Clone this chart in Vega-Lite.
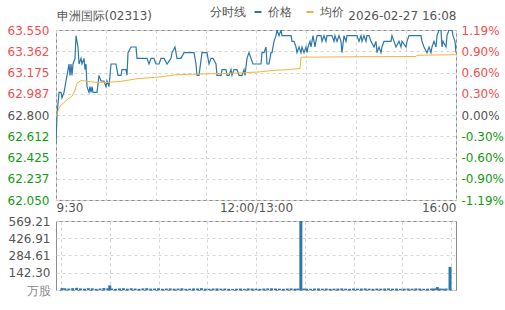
{
  "$schema": "https://vega.github.io/schema/vega-lite/v6.json",
  "padding": {"left": 0, "top": 2, "right": 0, "bottom": 0},
  "autosize": {"type": "pad"},
  "background": "white",
  "config": {
    "font": "DejaVu Sans",
    "view": {"stroke": "#8c8c8c", "strokeWidth": 1},
    "axis": {"labelFont": "DejaVu Sans", "labelFontSize": 12, "labelColor": "#555555", "ticks": false, "domain": false, "gridColor": "#d6d6d6", "gridDash": [3, 3], "gridWidth": 1},
    "legend": {"labelFont": "DejaVu Sans", "titleFont": "DejaVu Sans"}
  },
  "datasets": {
    "price": [
      {"i":0,"v":62.55,"s":"价格"},{"i":1,"v":62.80,"s":"价格"},{"i":3,"v":63.00,"s":"价格"},{"i":5,"v":63.00,"s":"价格"},{"i":6,"v":62.95,"s":"价格"},{"i":8,"v":63.00,"s":"价格"},{"i":10,"v":63.10,"s":"价格"},{"i":11,"v":63.15,"s":"价格"},{"i":13,"v":63.25,"s":"价格"},{"i":14,"v":63.15,"s":"价格"},{"i":15,"v":63.25,"s":"价格"},{"i":16,"v":63.15,"s":"价格"},{"i":17,"v":63.25,"s":"价格"},{"i":19,"v":63.30,"s":"价格"},{"i":20,"v":63.50,"s":"价格"},{"i":22,"v":63.40,"s":"价格"},{"i":23,"v":63.25,"s":"价格"},{"i":25,"v":63.30,"s":"价格"},{"i":26,"v":63.25,"s":"价格"},{"i":28,"v":63.30,"s":"价格"},{"i":29,"v":63.20,"s":"价格"},{"i":30,"v":63.25,"s":"价格"},{"i":31,"v":63.05,"s":"价格"},{"i":33,"v":63.00,"s":"价格"},{"i":34,"v":63.05,"s":"价格"},{"i":35,"v":63.00,"s":"价格"},{"i":36,"v":63.05,"s":"价格"},{"i":37,"v":63.00,"s":"价格"},{"i":41,"v":63.00,"s":"价格"},{"i":43,"v":63.15,"s":"价格"},{"i":45,"v":63.10,"s":"价格"},{"i":48,"v":63.10,"s":"价格"},{"i":50,"v":63.05,"s":"价格"},{"i":51,"v":63.10,"s":"价格"},{"i":53,"v":63.05,"s":"价格"},{"i":55,"v":63.25,"s":"价格"},{"i":60,"v":63.25,"s":"价格"},{"i":61,"v":63.20,"s":"价格"},{"i":62,"v":63.15,"s":"价格"},{"i":65,"v":63.15,"s":"价格"},{"i":66,"v":63.20,"s":"价格"},{"i":70,"v":63.20,"s":"价格"},{"i":71,"v":63.15,"s":"价格"},{"i":72,"v":63.35,"s":"价格"},{"i":75,"v":63.40,"s":"价格"},{"i":80,"v":63.40,"s":"价格"},{"i":81,"v":63.30,"s":"价格"},{"i":91,"v":63.30,"s":"价格"},{"i":93,"v":63.25,"s":"价格"},{"i":95,"v":63.30,"s":"价格"},{"i":98,"v":63.30,"s":"价格"},{"i":100,"v":63.25,"s":"价格"},{"i":103,"v":63.25,"s":"价格"},{"i":105,"v":63.30,"s":"价格"},{"i":108,"v":63.30,"s":"价格"},{"i":111,"v":63.25,"s":"价格"},{"i":115,"v":63.30,"s":"价格"},{"i":116,"v":63.35,"s":"价格"},{"i":119,"v":63.40,"s":"价格"},{"i":121,"v":63.30,"s":"价格"},{"i":125,"v":63.30,"s":"价格"},{"i":128,"v":63.35,"s":"价格"},{"i":138,"v":63.35,"s":"价格"},{"i":140,"v":63.25,"s":"价格"},{"i":141,"v":63.15,"s":"价格"},{"i":143,"v":63.15,"s":"价格"},{"i":146,"v":63.35,"s":"价格"},{"i":151,"v":63.35,"s":"价格"},{"i":153,"v":63.25,"s":"价格"},{"i":155,"v":63.30,"s":"价格"},{"i":157,"v":63.30,"s":"价格"},{"i":160,"v":63.25,"s":"价格"},{"i":161,"v":63.15,"s":"价格"},{"i":165,"v":63.15,"s":"价格"},{"i":166,"v":63.20,"s":"价格"},{"i":170,"v":63.20,"s":"价格"},{"i":171,"v":63.15,"s":"价格"},{"i":173,"v":63.15,"s":"价格"},{"i":175,"v":63.20,"s":"价格"},{"i":176,"v":63.15,"s":"价格"},{"i":178,"v":63.20,"s":"价格"},{"i":181,"v":63.20,"s":"价格"},{"i":183,"v":63.15,"s":"价格"},{"i":186,"v":63.15,"s":"价格"},{"i":188,"v":63.20,"s":"价格"},{"i":189,"v":63.15,"s":"价格"},{"i":191,"v":63.30,"s":"价格"},{"i":193,"v":63.35,"s":"价格"},{"i":195,"v":63.30,"s":"价格"},{"i":197,"v":63.25,"s":"价格"},{"i":205,"v":63.25,"s":"价格"},{"i":206,"v":63.35,"s":"价格"},{"i":208,"v":63.35,"s":"价格"},{"i":210,"v":63.40,"s":"价格"},{"i":211,"v":63.25,"s":"价格"},{"i":213,"v":63.25,"s":"价格"},{"i":215,"v":63.35,"s":"价格"},{"i":216,"v":63.35,"s":"价格"},{"i":218,"v":63.45,"s":"价格"},{"i":220,"v":63.50,"s":"价格"},{"i":221,"v":63.55,"s":"价格"},{"i":223,"v":63.50,"s":"价格"},{"i":225,"v":63.55,"s":"价格"},{"i":226,"v":63.50,"s":"价格"},{"i":235,"v":63.50,"s":"价格"},{"i":236,"v":63.45,"s":"价格"},{"i":238,"v":63.45,"s":"价格"},{"i":240,"v":63.40,"s":"价格"},{"i":241,"v":63.35,"s":"价格"},{"i":243,"v":63.40,"s":"价格"},{"i":245,"v":63.35,"s":"价格"},{"i":246,"v":63.40,"s":"价格"},{"i":248,"v":63.35,"s":"价格"},{"i":250,"v":63.40,"s":"价格"},{"i":251,"v":63.35,"s":"价格"},{"i":252,"v":63.40,"s":"价格"},{"i":254,"v":63.45,"s":"价格"},{"i":255,"v":63.40,"s":"价格"},{"i":257,"v":63.50,"s":"价格"},{"i":259,"v":63.40,"s":"价格"},{"i":261,"v":63.50,"s":"价格"},{"i":265,"v":63.50,"s":"价格"},{"i":266,"v":63.45,"s":"价格"},{"i":268,"v":63.50,"s":"价格"},{"i":270,"v":63.45,"s":"价格"},{"i":271,"v":63.50,"s":"价格"},{"i":276,"v":63.50,"s":"价格"},{"i":278,"v":63.45,"s":"价格"},{"i":279,"v":63.50,"s":"价格"},{"i":281,"v":63.45,"s":"价格"},{"i":283,"v":63.50,"s":"价格"},{"i":285,"v":63.45,"s":"价格"},{"i":286,"v":63.35,"s":"价格"},{"i":288,"v":63.50,"s":"价格"},{"i":290,"v":63.45,"s":"价格"},{"i":291,"v":63.50,"s":"价格"},{"i":301,"v":63.50,"s":"价格"},{"i":303,"v":63.45,"s":"价格"},{"i":305,"v":63.50,"s":"价格"},{"i":306,"v":63.45,"s":"价格"},{"i":308,"v":63.50,"s":"价格"},{"i":310,"v":63.45,"s":"价格"},{"i":311,"v":63.50,"s":"价格"},{"i":313,"v":63.50,"s":"价格"},{"i":315,"v":63.45,"s":"价格"},{"i":318,"v":63.40,"s":"价格"},{"i":320,"v":63.45,"s":"价格"},{"i":321,"v":63.35,"s":"价格"},{"i":323,"v":63.40,"s":"价格"},{"i":325,"v":63.35,"s":"价格"},{"i":326,"v":63.40,"s":"价格"},{"i":328,"v":63.45,"s":"价格"},{"i":335,"v":63.45,"s":"价格"},{"i":336,"v":63.50,"s":"价格"},{"i":338,"v":63.45,"s":"价格"},{"i":340,"v":63.40,"s":"价格"},{"i":343,"v":63.45,"s":"价格"},{"i":345,"v":63.40,"s":"价格"},{"i":346,"v":63.45,"s":"价格"},{"i":350,"v":63.40,"s":"价格"},{"i":351,"v":63.45,"s":"价格"},{"i":353,"v":63.50,"s":"价格"},{"i":365,"v":63.50,"s":"价格"},{"i":366,"v":63.45,"s":"价格"},{"i":368,"v":63.40,"s":"价格"},{"i":371,"v":63.35,"s":"价格"},{"i":373,"v":63.40,"s":"价格"},{"i":375,"v":63.35,"s":"价格"},{"i":376,"v":63.40,"s":"价格"},{"i":378,"v":63.45,"s":"价格"},{"i":380,"v":63.40,"s":"价格"},{"i":381,"v":63.50,"s":"价格"},{"i":383,"v":63.55,"s":"价格"},{"i":385,"v":63.55,"s":"价格"},{"i":386,"v":63.40,"s":"价格"},{"i":387,"v":63.45,"s":"价格"},{"i":390,"v":63.40,"s":"价格"},{"i":391,"v":63.50,"s":"价格"},{"i":393,"v":63.55,"s":"价格"},{"i":396,"v":63.55,"s":"价格"},{"i":397,"v":63.50,"s":"价格"},{"i":399,"v":63.45,"s":"价格"},{"i":400,"v":63.35,"s":"价格"}
    ],
    "avg": [
      {"i":0,"v":62.79,"s":"均价"},{"i":3,"v":62.86,"s":"均价"},{"i":5,"v":62.89,"s":"均价"},{"i":8,"v":62.91,"s":"均价"},{"i":11,"v":62.935,"s":"均价"},{"i":16,"v":62.965,"s":"均价"},{"i":19,"v":63.02,"s":"均价"},{"i":21,"v":63.08,"s":"均价"},{"i":25,"v":63.105,"s":"均价"},{"i":31,"v":63.097,"s":"均价"},{"i":41,"v":63.088,"s":"均价"},{"i":51,"v":63.088,"s":"均价"},{"i":65,"v":63.097,"s":"均价"},{"i":81,"v":63.12,"s":"均价"},{"i":103,"v":63.135,"s":"均价"},{"i":121,"v":63.156,"s":"均价"},{"i":148,"v":63.162,"s":"均价"},{"i":181,"v":63.17,"s":"均价"},{"i":203,"v":63.18,"s":"均价"},{"i":218,"v":63.194,"s":"均价"},{"i":231,"v":63.2,"s":"均价"},{"i":244,"v":63.21,"s":"均价"},{"i":245,"v":63.31,"s":"均价"},{"i":303,"v":63.314,"s":"均价"},{"i":360,"v":63.316,"s":"均价"},{"i":361,"v":63.327,"s":"均价"},{"i":400,"v":63.332,"s":"均价"}
    ],
    "vol": [
      {"i":1,"vol":16},{"i":4,"vol":14},{"i":8,"vol":12},{"i":12,"vol":15},{"i":16,"vol":18},{"i":20,"vol":13},{"i":24,"vol":11},{"i":28,"vol":15},{"i":32,"vol":14},{"i":36,"vol":10},{"i":40,"vol":12},{"i":44,"vol":16},{"i":48,"vol":14},{"i":50,"vol":38},{"i":52,"vol":12},{"i":56,"vol":10},{"i":60,"vol":13},{"i":64,"vol":15},{"i":68,"vol":11},{"i":72,"vol":14},{"i":76,"vol":12},{"i":80,"vol":10},{"i":84,"vol":13},{"i":88,"vol":15},{"i":92,"vol":11},{"i":96,"vol":12},{"i":100,"vol":14},{"i":104,"vol":10},{"i":108,"vol":12},{"i":112,"vol":13},{"i":116,"vol":11},{"i":120,"vol":12},{"i":124,"vol":14},{"i":128,"vol":10},{"i":132,"vol":11},{"i":136,"vol":13},{"i":140,"vol":12},{"i":144,"vol":15},{"i":148,"vol":11},{"i":152,"vol":10},{"i":156,"vol":12},{"i":160,"vol":13},{"i":164,"vol":11},{"i":168,"vol":12},{"i":172,"vol":10},{"i":176,"vol":9},{"i":180,"vol":11},{"i":184,"vol":12},{"i":188,"vol":10},{"i":192,"vol":13},{"i":196,"vol":12},{"i":200,"vol":11},{"i":204,"vol":10},{"i":208,"vol":12},{"i":212,"vol":13},{"i":216,"vol":14},{"i":220,"vol":12},{"i":224,"vol":11},{"i":228,"vol":10},{"i":232,"vol":12},{"i":236,"vol":13},{"i":240,"vol":11},{"i":243,"vol":12},{"i":246,"vol":569.21},{"i":249,"vol":12},{"i":252,"vol":11},{"i":256,"vol":10},{"i":260,"vol":12},{"i":264,"vol":13},{"i":268,"vol":11},{"i":272,"vol":12},{"i":276,"vol":10},{"i":280,"vol":11},{"i":284,"vol":12},{"i":288,"vol":13},{"i":292,"vol":11},{"i":296,"vol":10},{"i":300,"vol":12},{"i":304,"vol":11},{"i":308,"vol":12},{"i":312,"vol":13},{"i":316,"vol":11},{"i":320,"vol":10},{"i":324,"vol":12},{"i":328,"vol":11},{"i":332,"vol":12},{"i":336,"vol":13},{"i":340,"vol":11},{"i":344,"vol":12},{"i":348,"vol":10},{"i":352,"vol":11},{"i":356,"vol":12},{"i":360,"vol":11},{"i":364,"vol":13},{"i":368,"vol":12},{"i":372,"vol":10},{"i":376,"vol":11},{"i":380,"vol":12},{"i":383,"vol":13},{"i":386,"vol":24},{"i":389,"vol":12},{"i":392,"vol":11},{"i":395,"vol":12},{"i":399,"vol":191}
    ]
  },
  "vconcat": [
    {
      "width": 400,
      "height": 170,
      "layer": [
        {
          "data": {"name": "price"},
          "mark": {"type": "line", "strokeWidth": 1.2, "clip": true},
          "encoding": {
            "x": {"field": "i", "type": "quantitative", "scale": {"domain": [0, 400], "nice": false, "zero": false},
              "axis": {"title": null, "values": [0, 50, 100, 150, 200, 250, 300, 350, 400], "labelOverlap": false, "labelFlush": false,
                "labelExpr": "datum.value == 0 ? '9:30' : datum.value == 200 ? '12:00/13:00' : datum.value == 400 ? '16:00' : ''",
                "labelAlign": {"expr": "datum.value == 0 ? 'left' : datum.value == 400 ? 'right' : 'center'"},
                "labelPadding": 2, "minExtent": 16, "maxExtent": 16}},
            "y": {"field": "v", "type": "quantitative", "scale": {"domain": [62.05, 63.55], "nice": false, "zero": false},
              "axis": {"values": [62.05, 62.2375, 62.425, 62.6125, 62.8, 62.9875, 63.175, 63.3625, 63.55],
                "labelExpr": "format(floor(datum.value*1000+0.01)/1000, '.3f')",
                "labelColor": {"expr": "datum.value > 62.81 ? '#f24e4e' : datum.value < 62.79 ? '#139a13' : '#555555'"},
                "labelPadding": 7, "minExtent": 55, "maxExtent": 55,
                "title": "申洲国际(02313)", "titleAngle": 0, "titleX": 0, "titleY": -11, "titleAlign": "left", "titleBaseline": "alphabetic",
                "titleFontSize": 12, "titleFontWeight": "normal", "titleColor": "#555555", "titleFont": "DejaVu Sans"}},
            "color": {"field": "s", "type": "nominal", "scale": {"domain": ["价格", "均价"], "range": ["#2c78aa", "#f7b23b"]},
              "legend": {"title": "分时线", "orient": "none", "legendX": 150, "legendY": -28, "padding": 4, "direction": "horizontal", "titleOrient": "left",
                "symbolType": "stroke", "symbolSize": 50, "symbolStrokeWidth": 2, "labelFontSize": 12, "titleFontSize": 12, "titleFontWeight": "normal",
                "titleColor": "#555555", "labelColor": "#555555", "columnPadding": 10, "labelOffset": 4, "titlePadding": 6}}
          }
        },
        {
          "data": {"name": "avg"},
          "mark": {"type": "line", "strokeWidth": 1, "clip": true},
          "encoding": {
            "x": {"field": "i", "type": "quantitative"},
            "y": {"field": "v", "type": "quantitative",
              "axis": {"orient": "right", "grid": false, "values": [62.05, 62.2375, 62.425, 62.6125, 62.8, 62.9875, 63.175, 63.3625, 63.55],
                "labelExpr": "replace(format((datum.value-62.8)/62.8, '.2%'), '\u2212', '-')",
                "labelColor": {"expr": "datum.value > 62.81 ? '#f24e4e' : datum.value < 62.79 ? '#139a13' : '#555555'"},
                "labelPadding": 5, "minExtent": 50, "maxExtent": 50,
                "title": "2026-02-27 16:08", "titleAngle": 0, "titleX": 0, "titleY": -11, "titleAlign": "right", "titleBaseline": "alphabetic",
                "titleFontSize": 12, "titleFontWeight": "normal", "titleColor": "#555555", "titleFont": "DejaVu Sans"}},
            "color": {"field": "s", "type": "nominal"}
          }
        }
      ],
      "resolve": {"axis": {"y": "independent"}}
    },
    {
      "width": 400,
      "height": 69,
      "data": {"name": "vol"},
      "mark": {"type": "bar", "size": 3, "color": "#2c78aa"},
      "encoding": {
        "x": {"field": "i", "type": "quantitative", "scale": {"domain": [0, 400], "nice": false, "zero": false},
          "axis": {"title": null, "values": [0, 50, 100, 150, 200, 250, 300, 350, 400], "labels": false, "minExtent": 0, "maxExtent": 0}},
        "y": {"field": "vol", "type": "quantitative", "scale": {"domain": [0, 569.21], "nice": false},
          "axis": {"title": null, "values": [0, 142.3, 284.61, 426.91, 569.21],
            "labelExpr": "datum.value == 0 ? '万股' : format(datum.value, '.2f')",
            "labelColor": {"expr": "datum.value == 0 ? '#888888' : '#555555'"},
            "labelPadding": 6, "minExtent": 55, "maxExtent": 55}}
      }
    }
  ],
  "bounds": "flush",
  "spacing": 21
}
